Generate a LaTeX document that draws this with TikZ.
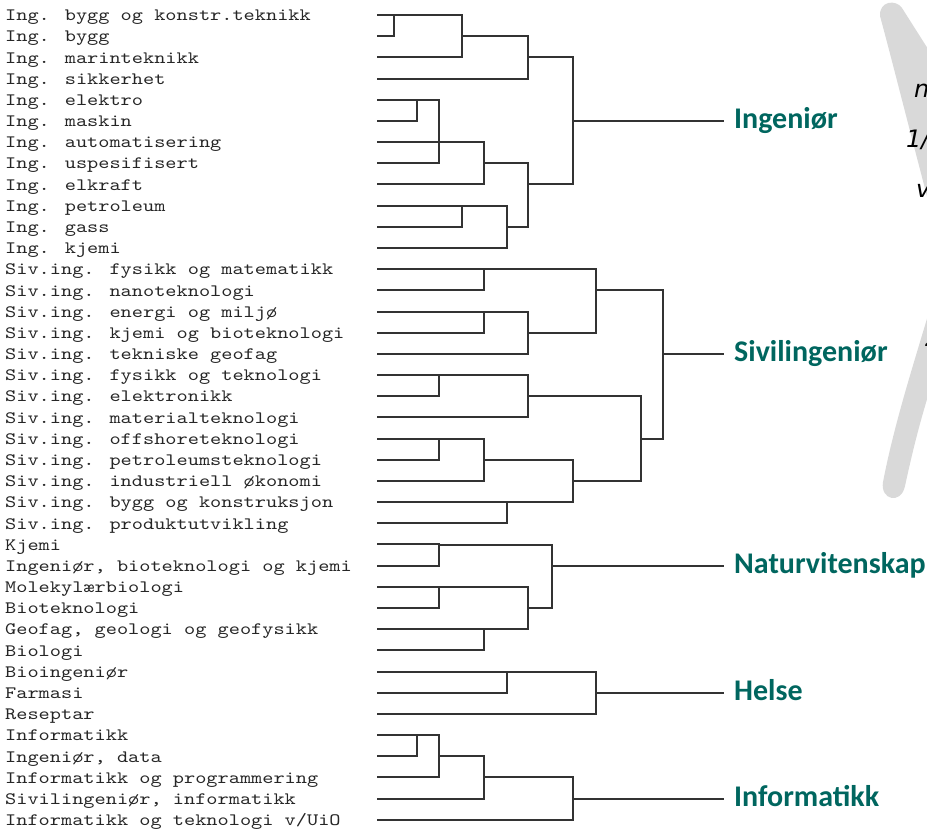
\documentclass[tikz,border=0pt]{standalone}
\usepackage{fontspec}
\newfontfamily\leaffont{lmmono10-regular}[Extension=.otf, FakeStretch=1.224]
\newfontfamily\catfont{Carlito}
\newfontfamily\notefont{DejaVu Sans}
\definecolor{catcol}{HTML}{00665F}
\definecolor{shadecol}{HTML}{D9D9D9}
\definecolor{treecol}{HTML}{333333}
\begin{document}
\begin{tikzpicture}[x=1pt,y=-1pt,
  leaf/.style={anchor=base west, inner sep=0pt, text=black!85, font=\leaffont\fontsize{17.4}{20}\selectfont},
  cat/.style={anchor=base west, inner sep=0pt, text=catcol, font=\catfont\bfseries\fontsize{30}{31}\selectfont},
  note/.style={anchor=base west, inner sep=0pt, font=\notefont\itshape\fontsize{24}{26}\selectfont},
  branch/.style={draw=treecol, line width=1.4pt}]
\useasboundingbox (0,0) rectangle (927,828);
\begin{scope}
\clip (0,0) rectangle (927,828);
\fill[shadecol] (880,16) .. controls (892,60) and (912,140) .. (932,215) -- (990,215) -- (935,60) -- (902,8) .. controls (896,-1) and (879,1) .. (880,16) -- cycle;
\fill[shadecol] (934,295) .. controls (915,360) and (895,420) .. (883,482) .. controls (880,500) and (901,505) .. (905,486) .. controls (915,440) and (925,400) .. (950,330) -- cycle;
\node[note] (n1) at (914,97) {n};
\node[note] (n2) at (906,147) {1/};
\node[note] (n3) at (916,197) {v};
\node[note] (n4) at (925,346) {2};
\end{scope}

\foreach \lab [count=\i from 0] in {Ing. bygg og konstr.teknikk, Ing. bygg, Ing. marinteknikk, Ing. sikkerhet, Ing. elektro, Ing. maskin, Ing. automatisering, Ing. uspesifisert, Ing. elkraft, Ing. petroleum, Ing. gass, Ing. kjemi, Siv.ing. fysikk og matematikk, Siv.ing. nanoteknologi, Siv.ing. energi og miljø, Siv.ing. kjemi og bioteknologi, Siv.ing. tekniske geofag, Siv.ing. fysikk og teknologi, Siv.ing. elektronikk, Siv.ing. materialteknologi, Siv.ing. offshoreteknologi, Siv.ing. petroleumsteknologi, Siv.ing. industriell økonomi, Siv.ing. bygg og konstruksjon, Siv.ing. produktutvikling, Kjemi, {Ingeniør, bioteknologi og kjemi}, Molekylærbiologi, Bioteknologi, {Geofag, geologi og geofysikk}, Biologi, Bioingeniør, Farmasi, Reseptar, Informatikk, {Ingeniør, data}, Informatikk og programmering, {Sivilingeniør, informatikk}, Informatikk og teknologi v/UiO}{
  \node[leaf] (t\i) at (5,{20.7+21.18*\i}) {\lab};
  \coordinate (L\i) at (377,{round(15+21.18*\i)});
}

% Ingenior
\coordinate (iA) at (394,15);
\coordinate (iB) at (462,36);
\coordinate (iC) at (528,57);
\coordinate (iD) at (417,100);
\coordinate (iE) at (439,142);
\coordinate (iF) at (484,163);
\coordinate (iG) at (462,206);
\coordinate (iH) at (507,227);
\coordinate (iI) at (528,184);
\coordinate (iJ) at (573,121);
\coordinate (eI) at (724,121);
\draw[branch] (L0) -| (iA) (L1) -| (iA);
\draw[branch] (iA) -| (iB) (L2) -| (iB);
\draw[branch] (iB) -| (iC) (L3) -| (iC);
\draw[branch] (L4) -| (iD) (L5) -| (iD);
\draw[branch] (iD) -| (iE) (L6) -| (iE) (L7) -| (iE);
\draw[branch] (iE) -| (iF) (L8) -| (iF);
\draw[branch] (L9) -| (iG) (L10) -| (iG);
\draw[branch] (iG) -| (iH) (L11) -| (iH);
\draw[branch] (iF) -| (iI) (iH) -| (iI);
\draw[branch] (iC) -| (iJ) (iI) -| (iJ);
\draw[branch] (iJ) -- (eI);
\node[cat] (cI) at (734,128.9) {Ingeniør};

% Sivilingenior
\coordinate (sK) at (484,269);
\coordinate (sL) at (484,312);
\coordinate (sM) at (528,333);
\coordinate (sN) at (596,290);
\coordinate (sO) at (439,375);
\coordinate (sP) at (528,396);
\coordinate (sQ) at (439,439);
\coordinate (sR) at (484,460);
\coordinate (sS) at (507,502);
\coordinate (sT) at (573,481);
\coordinate (sU) at (641,439);
\coordinate (sV) at (663,354);
\coordinate (eS) at (724,354);
\draw[branch] (L12) -| (sK) (L13) -| (sK);
\draw[branch] (L14) -| (sL) (L15) -| (sL);
\draw[branch] (sL) -| (sM) (L16) -| (sM);
\draw[branch] (sK) -| (sN) (sM) -| (sN);
\draw[branch] (L17) -| (sO) (L18) -| (sO);
\draw[branch] (sO) -| (sP) (L19) -| (sP);
\draw[branch] (L20) -| (sQ) (L21) -| (sQ);
\draw[branch] (sQ) -| (sR) (L22) -| (sR);
\draw[branch] (L23) -| (sS) (L24) -| (sS);
\draw[branch] (sR) -| (sT) (sS) -| (sT);
\draw[branch] (sP) -| (sU) (sT) -| (sU);
\draw[branch] (sN) -| (sV) (sU) -| (sV);
\draw[branch] (sV) -- (eS);
\node[cat] (cS) at (734,361.88) {Sivilingeniør};

% Naturvitenskap
\coordinate (nW) at (439,545);
\coordinate (nX) at (439,587);
\coordinate (nY) at (484,629);
\coordinate (nZ) at (528,608);
\coordinate (nA) at (552,566);
\coordinate (eN) at (724,566);
\draw[branch] (L25) -| (nW) (L26) -| (nW);
\draw[branch] (L27) -| (nX) (L28) -| (nX);
\draw[branch] (L29) -| (nY) (L30) -| (nY);
\draw[branch] (nX) -| (nZ) (nY) -| (nZ);
\draw[branch] (nW) -| (nA) (nZ) -| (nA);
\draw[branch] (nA) -- (eN);
\node[cat] (cN) at (734,573.68) {Naturvitenskap};

% Helse
\coordinate (hA) at (507,672);
\coordinate (hB) at (596,693);
\coordinate (eH) at (724,693);
\draw[branch] (L31) -| (hA) (L32) -| (hA);
\draw[branch] (hA) -| (hB) (L33) -| (hB);
\draw[branch] (hB) -- (eH);
\node[cat] (cH) at (734,700.76) {Helse};

% Informatikk
\coordinate (fA) at (417,735);
\coordinate (fB) at (439,756);
\coordinate (fC) at (484,777);
\coordinate (fD) at (573,799);
\coordinate (eF) at (724,799);
\draw[branch] (L34) -| (fA) (L35) -| (fA);
\draw[branch] (fA) -| (fB) (L36) -| (fB);
\draw[branch] (fB) -| (fC) (L37) -| (fC);
\draw[branch] (fC) -| (fD) (L38) -| (fD);
\draw[branch] (fD) -- (eF);
\node[cat] (cF) at (734,806.66) {Informatikk};
\end{tikzpicture}
\end{document}
